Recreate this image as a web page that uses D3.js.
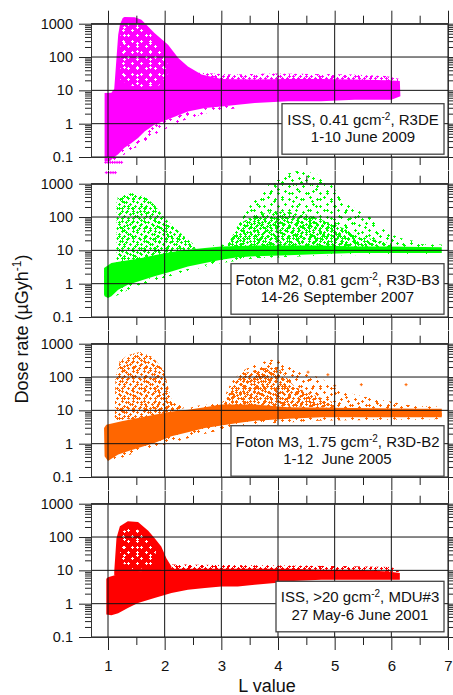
<!DOCTYPE html>
<html>
<head>
<meta charset="utf-8">
<script src="https://cdn.jsdelivr.net/npm/d3@7"></script>
<style>
body { margin: 0; background: #fff; }
text { font-family: "Liberation Sans", Arial, sans-serif; fill: #111; }
</style>
</head>
<body>
<div id="chart"></div>
<script>
// Axis ticks
var xTicks = [1, 2, 3, 4, 5, 6, 7];
var xHalfTicks = [1.5, 2.5, 3.5, 4.5, 5.5, 6.5];
var yTicks = [0.1, 1, 10, 100, 1000];

// Cloud outlines, [L value, dose rate µGy/h]
// ISS, 0.41 gcm-2, R3DE
var issR3deCore = [[0.94,0.074],[0.94,8.3],[1.06,8.5],[1.11,11],[1.15,93],[1.18,470],[1.21,930],[1.26,1480],[1.29,1580],[1.47,1550],[1.59,1320],[1.82,525],[2.06,234],[2.24,93],[2.41,52],[2.65,30],[3.0,22],[3.59,21],[4.18,22],[4.76,22],[5.35,21],[5.94,20],[6.15,19],[6.16,6.6],[6.0,5.2],[5.35,5.2],[4.76,4.7],[4.18,4.7],[3.59,4.2],[3.29,3.7],[3.0,3.3],[2.71,2.95],[2.41,2.3],[2.12,1.48],[1.82,0.93],[1.65,0.59],[1.53,0.37],[1.41,0.26],[1.29,0.19],[1.18,0.12],[1.09,0.093],[1.03,0.074]];
var issR3deFringe = [[2.6,34],[3.2,30],[3.9,32],[4.6,31],[5.3,30],[5.9,27],[6.15,22],[6.15,18],[5.0,20],[3.5,19],[2.6,24]];
var issR3deLower = [[1.05,0.07],[1.3,0.12],[1.6,0.25],[1.9,0.55],[2.3,1.2],[2.8,2.2],[3.3,3.0],[3.3,3.7],[2.71,2.95],[2.41,2.3],[2.12,1.48],[1.82,0.93],[1.53,0.37],[1.29,0.19],[1.09,0.093]];
var issR3deGaps = [[1.22,700],[1.35,1100],[1.55,1000],[1.75,500],[1.95,150],[2.1,40],[1.9,14],[1.5,12],[1.22,20]];
var issR3deLow = [[0.96,0.069],[1.0,0.069],[1.04,0.069],[1.08,0.069],[1.12,0.069],[1.16,0.069],[1.2,0.069],[1.24,0.069],[0.97,0.034],[1.01,0.034],[1.05,0.034],[1.09,0.034],[1.13,0.034]];

// Foton M2, 0.81 gcm-2, R3D-B3
var fotonM2Core = [[0.93,2.95],[0.97,3.3],[1.06,4.2],[1.24,4.7],[1.53,5.6],[1.82,7.1],[2.12,8.9],[2.41,10.5],[2.71,11.7],[3.0,13],[3.59,14],[4.76,14],[5.35,13],[5.94,13],[6.89,12.3],[6.89,8.3],[5.94,8.3],[5.35,8.3],[4.76,7.8],[4.18,7.1],[3.59,6.6],[3.29,6.2],[3.0,5.2],[2.71,4.2],[2.41,3.3],[2.12,2.3],[1.82,1.66],[1.53,1.17],[1.35,0.93],[1.18,0.66],[1.06,0.42],[1.0,0.37],[0.94,0.42],[0.93,0.47]];
var fotonM2Fringe = [[1.1,0.4],[1.5,0.85],[2.0,1.5],[2.5,2.6],[3.0,4.2],[3.6,5.8],[4.8,7.0],[6.89,7.6],[6.89,15],[5.0,17],[3.5,17],[2.8,14],[2.8,4],[1.1,0.8]];
var fotonM2Saa = [[1.15,4.2],[1.15,295],[1.21,417],[1.41,525],[1.53,490],[1.68,372],[1.82,234],[2.0,93],[2.18,47],[2.41,21],[2.59,11.7],[2.12,8.5],[1.53,5.4]];
var fotonM2SaaDense = [[1.17,400],[1.35,480],[1.55,470],[1.68,330],[1.75,180],[1.7,80],[1.45,55],[1.18,70]];
var fotonM2Outer = [[3.0,12.5],[3.24,37],[3.47,186],[3.71,590],[4.0,1660],[4.35,2450],[4.65,2090],[4.94,930],[5.12,372],[5.35,186],[5.65,93],[5.94,33],[6.24,21],[6.53,18],[6.53,12.5]];
var fotonM2OuterDense = [[3.1,13],[3.3,60],[3.6,120],[4.0,150],[4.5,120],[5.0,60],[5.5,25],[6.0,16],[6.0,12.5]];

// Foton M3, 1.75 gcm-2, R3D-B2
var fotonM3Core = [[0.93,2.95],[0.97,3.7],[1.24,4.7],[1.53,5.9],[1.82,7.4],[2.12,9.3],[2.41,10.5],[2.71,12.3],[3.0,15],[3.59,15],[4.18,12.3],[5.35,11.7],[6.53,11.2],[6.89,11.2],[6.89,6.2],[5.94,6.2],[4.76,6.2],[4.18,5.6],[3.59,4.9],[3.29,4.2],[3.0,3.5],[2.71,2.95],[2.41,2.2],[2.12,1.66],[1.82,1.05],[1.53,0.74],[1.35,0.59],[1.18,0.47],[1.06,0.35],[1.0,0.30],[0.94,0.42]];
var fotonM3Fringe = [[1.1,0.3],[1.5,0.55],[2.0,0.95],[2.5,1.6],[3.0,2.6],[3.6,3.8],[4.8,5.0],[6.89,5.4],[6.89,13],[4.2,15],[3.0,17],[2.5,13],[1.1,0.6]];
var fotonM3Saa = [[1.12,5.0],[1.13,93],[1.21,295],[1.35,450],[1.56,560],[1.76,417],[1.88,263],[1.99,148],[2.05,59],[2.12,21],[2.35,11.7],[2.12,9],[1.53,5.7]];
var fotonM3SaaDense = [[1.2,300],[1.4,460],[1.58,540],[1.78,380],[1.9,220],[1.75,110],[1.35,100]];
var fotonM3Outer = [[3.0,14],[3.12,47],[3.24,93],[3.41,166],[3.65,263],[3.88,331],[4.06,310],[4.29,186],[4.47,132],[4.76,93],[5.0,47],[5.35,30],[5.65,23],[5.94,19],[6.24,15],[6.53,12.3],[6.53,11],[4.2,12]];
var fotonM3OuterDense = [[3.05,15],[3.2,60],[3.4,130],[3.7,180],[4.0,200],[4.1,120],[4.3,50],[4.6,30],[5.0,17],[5.0,12]];
var fotonM3Stray = [[5.47,59],[6.26,59],[4.88,117],[4.53,140],[5.0,55]];

// ISS, >20 gcm-2, MDU#3
var issMduCore = [[0.97,5.6],[1.0,6.2],[1.12,7.1],[1.24,8.3],[1.53,9.3],[1.82,10.5],[2.12,11.2],[3.0,11.2],[4.18,11.2],[4.76,10.5],[5.35,10.5],[5.94,9.3],[6.15,8.3],[6.15,5.2],[5.35,5.2],[4.76,5.2],[4.18,4.7],[3.94,4.2],[3.59,3.7],[3.29,3.3],[3.0,3.3],[2.71,2.95],[2.41,2.6],[2.12,2.1],[1.82,1.48],[1.53,1.05],[1.35,0.74],[1.18,0.52],[1.06,0.45],[0.97,0.47]];
var issMduSaa = [[1.11,9.3],[1.15,93],[1.21,209],[1.35,295],[1.53,280],[1.71,155],[1.82,93],[1.94,52],[2.03,23],[2.12,13],[2.12,11],[1.53,9],[1.11,7]];
var issMduGaps = [[1.25,150],[1.45,200],[1.65,120],[1.85,40],[1.8,12],[1.4,11],[1.2,20]];
var issMduFringe = [[2.1,15],[3.0,14.5],[4.2,14],[5.0,13.5],[6.0,12.5],[6.15,9],[2.1,10.5]];

// Legend texts
var legendTop = ["ISS, 0.41 gcm", "Foton M2, 0.81 gcm", "Foton M3, 1.75 gcm", "ISS, >20 gcm"];
var legendTail = [", R3DE", ", R3D-B3", ", R3D-B2", ", MDU#3"];
var legendDates = ["1-10 June 2009", "14-26 September 2007", "1-12  June 2005", "27 May-6 June 2001"];

// Panel set-up (colour and fill style of each outline)
var panels = [
    {color: "#ff00ff", layers: [[issR3deLower, "light"], [issR3deFringe, "medium"], [issR3deCore, "solid"], [issR3deGaps, "holes"]], points: issR3deLow},
    {color: "#00ff00", layers: [[fotonM2Saa, "medium"], [fotonM2SaaDense, "medium"], [fotonM2Outer, "light"], [fotonM2OuterDense, "medium"], [fotonM2Fringe, "light"], [fotonM2Core, "solid"]], points: []},
    {color: "#ff6600", layers: [[fotonM3Saa, "medium"], [fotonM3SaaDense, "medium"], [fotonM3Outer, "light"], [fotonM3OuterDense, "medium"], [fotonM3Fringe, "light"], [fotonM3Core, "solid"]], points: fotonM3Stray},
    {color: "#ff0000", layers: [[issMduFringe, "medium"], [issMduSaa, "solid"], [issMduGaps, "holes"], [issMduCore, "solid"]], points: []}
];

// Legend box layout (px)
var boxLeft = [282, 231, 231, 276],
    boxOffset = [80, 80, 82, 77.6],
    boxRight = 444,
    boxHeight = 50.5;

// Speckle tiles used to mimic scattered "+" markers
var speckles = {
    light:  [{w: 14, h: 13, c: [[2,2],[9,4],[5,9],[12,11]]}, {w: 19, h: 17, c: [[4,6],[12,2],[16,12],[8,14]]}],
    medium: [{w: 11, h: 10, c: [[1,1],[5,2],[9,4],[3,6],[7,8],[1,8]]}, {w: 13, h: 14, c: [[3,3],[10,1],[7,6],[11,10],[2,12]]}],
    heavy:  [{w: 6, h: 6, c: [[1,1],[4,3],[2,4]]}, {w: 7, h: 5, c: [[3,1],[5,3],[1,3]]}],
    holes:  [{w: 9, h: 11, c: [[2,2],[6,8]]}, {w: 13, h: 8, c: [[7,3]]}]
};

// Create the graph area
var width = 453, height = 695;
var panelTop = 23.7, panelStep = 160, panelH = 133.3;

var svg = d3.select("#chart")
    .append("svg")
        .attr("width", width)
        .attr("height", height);

var defs = svg.append("defs");

var x = d3.scaleLinear()
    .domain([0.7, 7])
    .range([91, 448]);

function addPattern(id, color, tile) {
    var p = defs.append("pattern")
        .attr("id", id)
        .attr("patternUnits", "userSpaceOnUse")
        .attr("width", tile.w)
        .attr("height", tile.h);
    tile.c.forEach(function(c) {
        p.append("rect").attr("x", c[0] - 1).attr("y", c[1]).attr("width", 3).attr("height", 1).attr("fill", color);
        p.append("rect").attr("x", c[0]).attr("y", c[1] - 1).attr("width", 1).attr("height", 3).attr("fill", color);
    });
}

panels.forEach(function(p, i) {
    ["light", "medium", "heavy"].forEach(function(level) {
        speckles[level].forEach(function(tile, k) {
            addPattern("p" + i + level + k, p.color, tile);
        });
    });
});
speckles.holes.forEach(function(tile, k) { addPattern("holes" + k, "#ffffff", tile); });

var minorY = [];
[0.1, 1, 10, 100].forEach(function(d) {
    for (var m = 2; m <= 9; m++) minorY.push(d * m);
});

panels.forEach(function(p, i) {
    var top = panelTop + i * panelStep,
        bottom = top + panelH;

    var y = d3.scaleLog()
        .domain([0.1, 1000])
        .range([bottom, top]);

    var outline = d3.line()
        .x(function(d) { return x(d[0]); })
        .y(function(d) { return y(d[1]); })
        .curve(d3.curveLinearClosed);

    var g = svg.append("g").attr("class", "panel");

    // Data clouds
    p.layers.forEach(function(layer) {
        var shape = layer[0], style = layer[1];
        if (style === "solid") {
            g.append("path").attr("d", outline(shape)).attr("fill", p.color);
        } else if (style === "holes") {
            speckles.holes.forEach(function(t, k) {
                g.append("path").attr("d", outline(shape)).attr("fill", "url(#holes" + k + ")");
            });
        } else {
            speckles[style].forEach(function(t, k) {
                g.append("path").attr("d", outline(shape)).attr("fill", "url(#p" + i + style + k + ")");
            });
        }
    });

    g.selectAll(".pt")
        .data(p.points)
        .enter()
        .append("path")
        .attr("class", "pt")
        .attr("transform", function(d) { return "translate(" + x(d[0]) + "," + y(d[1]) + ")"; })
        .attr("d", "M-1.5,0H1.5M0,-1.5V1.5")
        .attr("stroke", p.color)
        .attr("stroke-width", 1);

    // Grid lines
    g.selectAll(".hgrid")
        .data(yTicks)
        .enter()
        .append("line")
        .attr("x1", 91).attr("x2", 448)
        .attr("y1", function(d) { return y(d); })
        .attr("y2", function(d) { return y(d); })
        .attr("stroke", "#111");

    g.selectAll(".vgrid")
        .data(xTicks)
        .enter()
        .append("line")
        .attr("x1", function(d) { return x(d); })
        .attr("x2", function(d) { return x(d); })
        .attr("y1", top).attr("y2", bottom)
        .attr("stroke", "#111");

    // Left axis with labels
    var left = g.append("g")
        .attr("transform", "translate(91,0)")
        .call(d3.axisLeft(y).tickValues(yTicks).tickSize(12).tickSizeOuter(0).tickPadding(6).tickFormat(String));
    left.append("g")
        .call(d3.axisLeft(y).tickValues(minorY).tickSize(6).tickSizeOuter(0).tickFormat(""));
    left.selectAll("text").style("font-size", "14.5px").attr("fill", "#111");

    // Right axis
    g.append("g")
        .attr("transform", "translate(448,0)")
        .call(d3.axisRight(y).tickValues(minorY.concat(yTicks)).tickSize(6).tickSizeOuter(0).tickFormat(""));

    // Top and bottom ticks
    g.append("g").attr("transform", "translate(0," + top + ")")
        .call(d3.axisTop(x).tickValues(xTicks).tickSize(13).tickSizeOuter(0).tickFormat(""));
    g.append("g").attr("transform", "translate(0," + top + ")")
        .call(d3.axisTop(x).tickValues(xHalfTicks).tickSize(8).tickSizeOuter(0).tickFormat(""));
    var bottomAxis = g.append("g").attr("transform", "translate(0," + bottom + ")")
        .call(d3.axisBottom(x).tickValues(xTicks).tickSize(13).tickSizeOuter(0).tickPadding(10)
            .tickFormat(i === panels.length - 1 ? String : ""));
    bottomAxis.selectAll("text").style("font-size", "15px").attr("fill", "#111");
    g.append("g").attr("transform", "translate(0," + bottom + ")")
        .call(d3.axisBottom(x).tickValues(xHalfTicks).tickSize(8).tickSizeOuter(0).tickFormat(""));

    g.selectAll(".domain").attr("stroke", "#333");
    g.selectAll(".tick line").attr("stroke", "#222");

    // Legend box
    var bx = boxLeft[i], by = top + boxOffset[i];
    g.append("rect")
        .attr("x", bx).attr("y", by)
        .attr("width", boxRight - bx).attr("height", boxHeight)
        .attr("fill", "#fff")
        .attr("stroke", "#444")
        .attr("stroke-width", 1.3);
    var cx = (bx + boxRight) / 2;
    var t1 = g.append("text")
        .attr("x", cx).attr("y", by + 21)
        .attr("text-anchor", "middle")
        .style("font-size", "15px");
    t1.append("tspan").text(legendTop[i]);
    t1.append("tspan").attr("dy", -5).style("font-size", "10px").text("-2");
    t1.append("tspan").attr("dy", 5).text(legendTail[i]);
    g.append("text")
        .attr("x", cx).attr("y", by + 38.5)
        .attr("text-anchor", "middle")
        .style("font-size", "15px")
        .style("white-space", "pre")
        .text(legendDates[i]);
});

// Axis titles
svg.append("text")
    .attr("x", 267).attr("y", 692)
    .attr("text-anchor", "middle")
    .style("font-size", "18px")
    .text("L value");

var yTitle = svg.append("text")
    .attr("transform", "translate(28,329) rotate(-90)")
    .attr("text-anchor", "middle")
    .style("font-size", "18px");
yTitle.append("tspan").text("Dose rate (\u00b5Gyh");
yTitle.append("tspan").attr("dy", -7).style("font-size", "12px").text("-1");
yTitle.append("tspan").attr("dy", 7).text(")");
</script>
</body>
</html>
